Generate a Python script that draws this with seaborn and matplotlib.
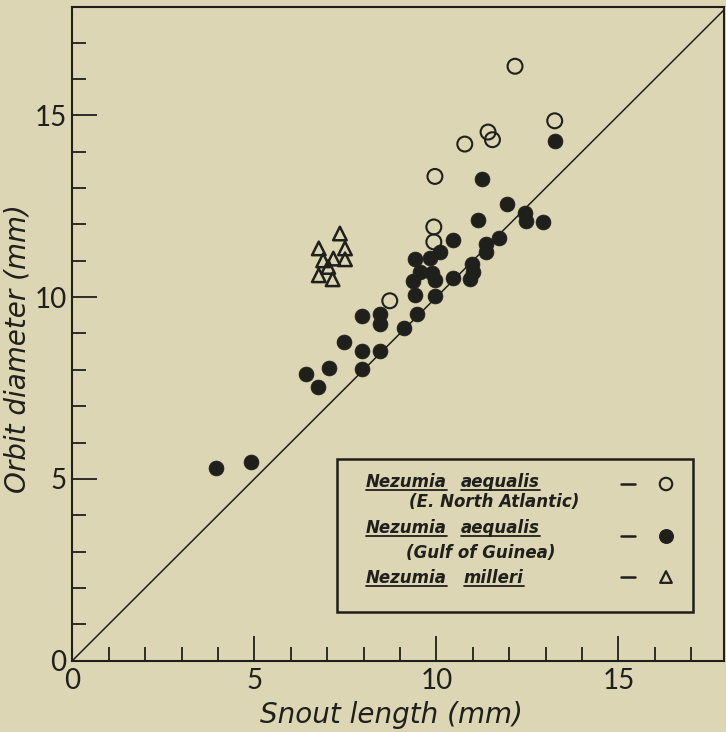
import matplotlib
matplotlib.use("Agg")
import matplotlib.pyplot as plt
from matplotlib.ticker import MultipleLocator
from matplotlib.patches import Rectangle
import seaborn as sns

# Nezumia aequalis, E. North Atlantic (open circles)
atlantic_snout = [12.16, 13.25, 11.42, 11.54, 10.78, 9.96, 9.93, 9.93, 8.72]
atlantic_orbit = [16.35, 14.85, 14.54, 14.33, 14.21, 13.32, 11.93, 11.52, 9.90]

# Nezumia aequalis, Gulf of Guinea (filled circles)
guinea_snout = [3.94, 4.92, 6.41, 6.74, 7.05, 7.46, 7.97, 7.97, 8.46, 7.95,
                8.45, 8.45, 9.11, 9.46, 9.41, 9.96, 9.36, 9.96, 9.55, 9.87,
                10.45, 9.41, 9.82, 10.10, 10.97, 11.01, 10.92, 10.45, 11.36, 11.36,
                11.73, 11.13, 12.43, 12.45, 12.93, 11.94, 11.24, 13.26]
guinea_orbit = [5.31, 5.47, 7.89, 7.54, 8.05, 8.76, 8.53, 8.02, 8.53, 9.49,
                9.54, 9.27, 9.15, 9.54, 10.05, 10.02, 10.45, 10.46, 10.69, 10.67,
                10.53, 11.04, 11.08, 11.23, 10.91, 10.69, 10.49, 11.56, 11.45, 11.24,
                11.63, 12.11, 12.32, 12.10, 12.07, 12.56, 13.24, 14.30]

# Nezumia milleri (open triangles)
milleri_snout = [7.35, 6.77, 7.49, 7.17, 6.89, 7.49, 7.03, 6.77, 7.15]
milleri_orbit = [11.75, 11.34, 11.34, 11.06, 11.01, 11.04, 10.83, 10.60, 10.49]

major_ticks = [0, 5, 10, 15]
tick_labels = ['0', '5', '10', '15']

BG = '#dcd6b5'
INK = '#1f1f1b'
TICK_FONT = ['Lato', 'DejaVu Sans']

sns.set_theme(style='ticks')
plt.rcParams['font.family'] = ['DejaVu Sans']
plt.rcParams['axes.facecolor'] = BG
plt.rcParams['figure.facecolor'] = BG

fig = plt.figure(figsize=(7.26, 7.32), dpi=100)
ax = fig.add_axes([72.3 / 726, 71.3 / 732, 651.7 / 726, 653.7 / 732])

# 1:1 reference line
ax.axline((0, 0), slope=1, color=INK, lw=1.1, zorder=1)

sns.scatterplot(x=guinea_snout, y=guinea_orbit, ax=ax, marker='o', s=115,
                color=INK, edgecolor=INK, linewidth=0.5, zorder=3)
sns.scatterplot(x=atlantic_snout, y=atlantic_orbit, ax=ax, marker='o', s=115,
                facecolor='none', edgecolor=INK, linewidth=1.5, zorder=3)
sns.scatterplot(x=milleri_snout, y=milleri_orbit, ax=ax, marker='^', s=95,
                facecolor='none', edgecolor=INK, linewidth=1.8, zorder=3)

ax.set_xlim(0, 17.9)
ax.set_ylim(0, 17.98)
ax.set_xticks(major_ticks)
ax.set_yticks(major_ticks)
ax.set_xticklabels(tick_labels, family=TICK_FONT)
ax.set_yticklabels(tick_labels, family=TICK_FONT)
ax.xaxis.set_minor_locator(MultipleLocator(1))
ax.yaxis.set_minor_locator(MultipleLocator(1))
ax.tick_params(which='both', direction='in', color=INK, width=1.3,
               labelsize=20, labelcolor=INK)
ax.tick_params(which='major', length=18)
ax.tick_params(which='minor', length=10)
ax.tick_params(axis='x', pad=5)
ax.tick_params(axis='y', pad=4)
for s in ax.spines.values():
    s.set_color(INK)
    s.set_linewidth(1.5)

ax.set_xlabel('Snout length (mm)', fontsize=20, style='italic', color=INK)
ax.set_ylabel('Orbit diameter (mm)', fontsize=20, style='italic', color=INK)
ax.xaxis.set_label_coords(0.49, -0.062)
ax.yaxis.set_label_coords(-0.063, 0.478)

# hand-drawn style legend box
ax.add_patch(Rectangle((0.406, 0.0745), 0.546, 0.234, transform=ax.transAxes,
                       fill=False, edgecolor=INK, lw=1.8, zorder=4))

lkw = dict(transform=ax.transAxes, fontsize=12, style='italic',
           weight='bold', color=INK, va='baseline', ha='left', zorder=5)
underlined = [
    ax.text(0.4507, 0.2662, 'Nezumia', **lkw),
    ax.text(0.596, 0.2662, 'aequalis', **lkw),
    ax.text(0.4507, 0.1949, 'Nezumia', **lkw),
    ax.text(0.596, 0.1949, 'aequalis', **lkw),
    ax.text(0.4507, 0.1184, 'Nezumia', **lkw),
    ax.text(0.601, 0.1184, 'milleri', **lkw),
]
ax.text(0.5166, 0.2356, '(E. North Atlantic)', **lkw)
ax.text(0.512, 0.1566, '(Gulf of Guinea)', **lkw)

for yy in [0.2703, 0.1908, 0.128]:
    ax.plot([0.8415, 0.8634], [yy, yy], transform=ax.transAxes, color=INK,
            lw=1.8, zorder=5, clip_on=False)
ax.scatter([0.911], [0.2703], transform=ax.transAxes, s=80, marker='o',
           facecolor='none', edgecolor=INK, linewidth=1.5, zorder=5)
ax.scatter([0.911], [0.1908], transform=ax.transAxes, s=95, marker='o',
           color=INK, zorder=5)
ax.scatter([0.911], [0.128], transform=ax.transAxes, s=70, marker='^',
           facecolor='none', edgecolor=INK, linewidth=1.6, zorder=5)

# underline the species names
fig.canvas.draw()
inv = ax.transAxes.inverted()
for t in underlined:
    bb = t.get_window_extent()
    x0, _ = inv.transform((bb.x0, 0))
    x1, _ = inv.transform((bb.x1, 0))
    _, yb = t.get_position()
    yl = yb - 3.0 / 653.7
    ax.plot([x0, x1], [yl, yl], transform=ax.transAxes, color=INK, lw=1.3,
            zorder=5)

fig.savefig('out.png', dpi=100, facecolor=BG)
